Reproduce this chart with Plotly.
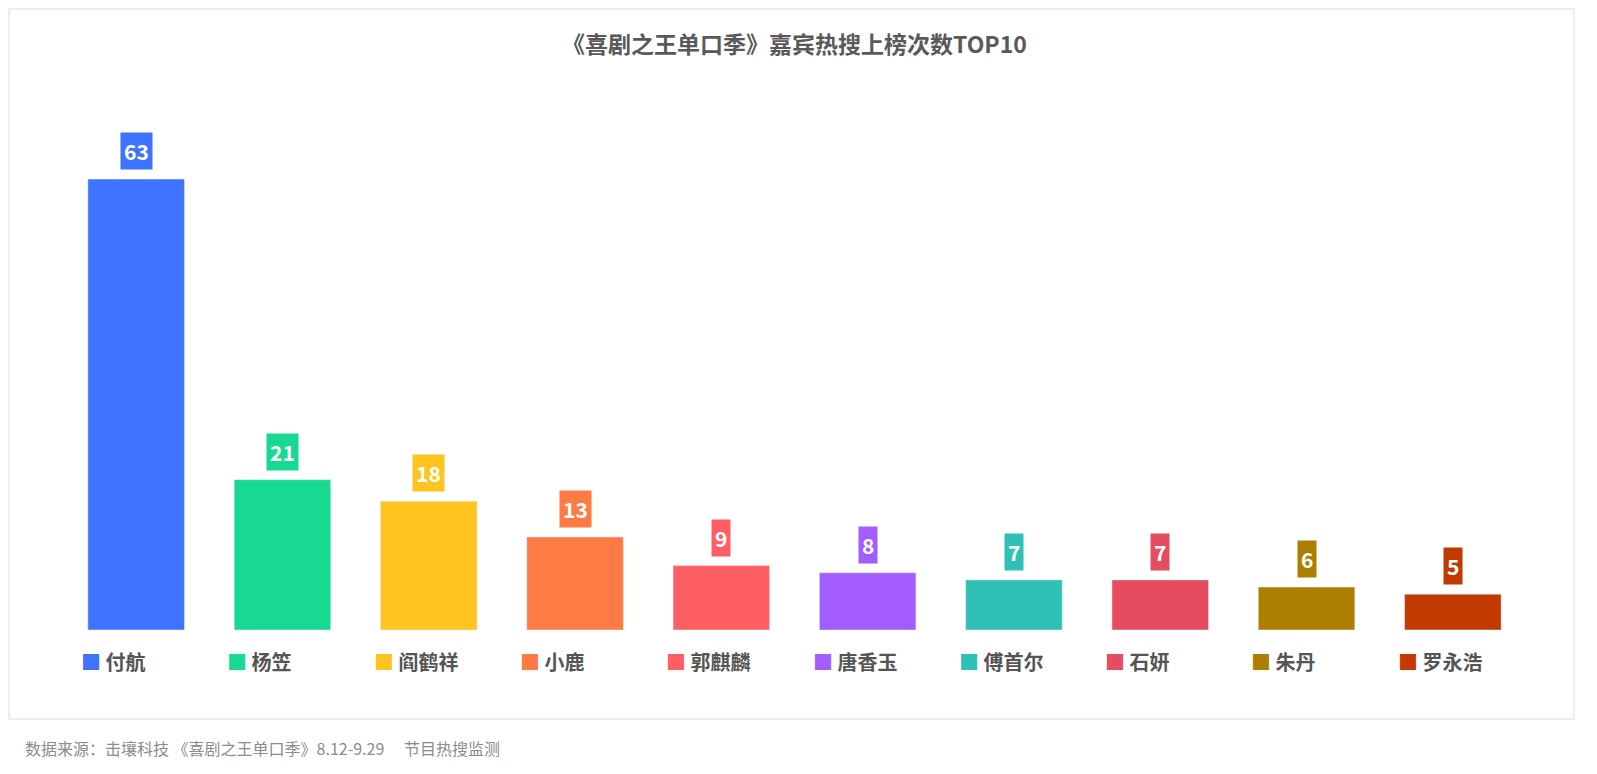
import plotly.graph_objects as go

names = ['付航', '杨笠', '阎鹤祥', '小鹿', '郭麒麟', '唐香玉', '傅首尔', '石妍', '朱丹', '罗永浩']
counts = [63, 21, 18, 13, 9, 8, 7, 7, 6, 5]
colors = ['#3d73ff', '#17d992', '#ffc41f', '#ff7a45', '#ff5f62', '#a25cff',
          '#2fc1b6', '#e64c5f', '#ad7f00', '#c23a00']

W, H = 1597, 774
L, R, T, B = 55, 79, 121, 152

fig = go.Figure(go.Bar(
    x=list(range(len(names))), y=counts, marker_color=colors,
    width=0.66, showlegend=False, hoverinfo='skip'
))

font = 'Noto Sans CJK SC'
anns = []
for i, (n, v, c) in enumerate(zip(names, counts, colors)):
    anns.append(dict(x=i, y=v, xref='x', yref='y', text=f'<b>{v}</b>', showarrow=False,
                     yshift=28, bgcolor=c, borderpad=3,
                     font=dict(size=21, color='white', family=font)))
    anns.append(dict(x=i - 0.39, y=-0.095, xref='x', yref='paper', xanchor='left',
                     text=f'<span style="color:{c}">■</span> <b>{n}</b>', showarrow=False,
                     font=dict(size=20, color='#555555', family=font)))

anns.append(dict(x=0.5, y=35, xref='paper', yref='paper', showarrow=False,
                 text='<b>《喜剧之王单口季》嘉宾热搜上榜次数TOP10</b>',
                 font=dict(size=23, color='#595959', family=font)))
fig.add_annotation(dict(
    x=15, y=H - 740, xref='paper', yref='paper', showarrow=False))
fig.layout.annotations = []
for a in anns:
    fig.add_annotation(a)
fig.update_annotations(selector=dict(text='<b>《喜剧之王单口季》嘉宾热搜上榜次数TOP10</b>'),
                       x=0.5, xanchor='center', y=1, yanchor='middle',
                       yshift=T - 35)
pw = W - L - R
ph = H - T - B
fig.add_annotation(x=(15 - L) / pw, y=-(740 - T - ph) / ph, xref='paper', yref='paper',
                   xanchor='left', yanchor='middle', showarrow=False,
                   text='数据来源：击壤科技 《喜剧之王单口季》8.12-9.29　 节目热搜监测',
                   font=dict(size=16, color='#8c8c8c', family=font))
fig.add_shape(type='rect', xref='paper', yref='paper',
              x0=(1 - L) / pw, x1=(1566 - L) / pw,
              y0=-(711 - T - ph) / ph, y1=(T - 1) / ph + 1,
              line=dict(color='#e8e8e8', width=1.5), layer='below')

fig.update_layout(
    width=W, height=H, margin=dict(l=L, r=R, t=T, b=B),
    plot_bgcolor='white', paper_bgcolor='white',
    xaxis=dict(range=[-0.5, 9.5], visible=False),
    yaxis=dict(range=[0, 70], visible=False),
    font=dict(family=font),
)
fig.write_html('out.html')
